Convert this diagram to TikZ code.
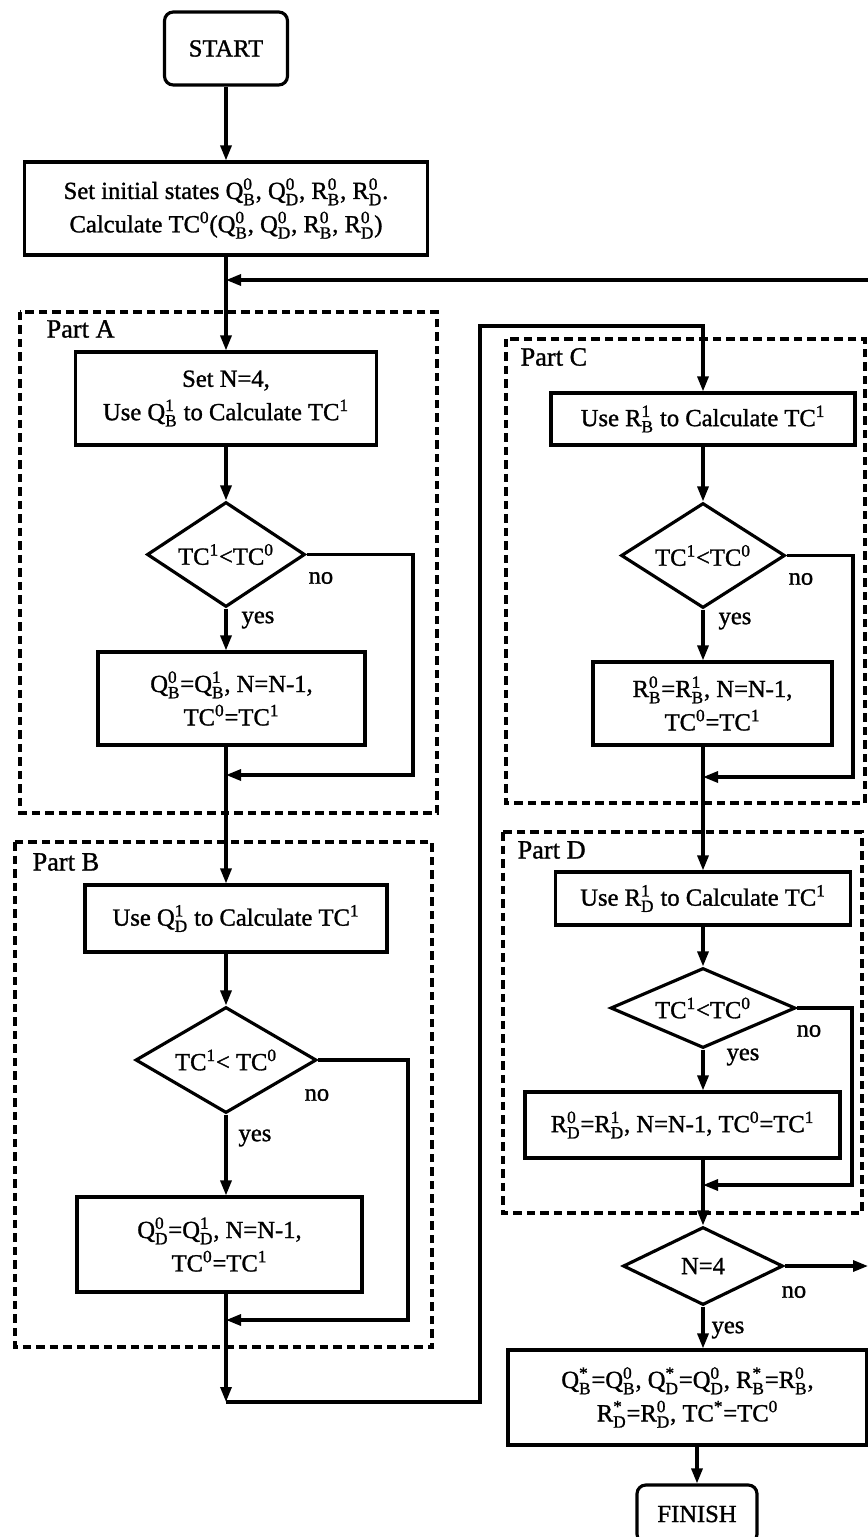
\documentclass[tikz,border=0pt]{standalone}
\usepackage{amsmath}
\usepackage{fontspec}
\setmainfont{Liberation Serif}[FakeBold=1.2]
\usetikzlibrary{shapes.geometric,arrows.meta,positioning}
\newcommand{\vr}[3]{#1\ensuremath{_{\text{#2}}^{\text{#3}}}}
\newcommand{\TCv}[1]{TC\textsuperscript{#1}}
\begin{document}
\begin{tikzpicture}[x=0.02cm, y=-0.02cm, >={Triangle[length=0.3cm,width=0.22cm]}, line width=1.8pt,
  every node/.style={font=\fontsize{14}{19}\selectfont, inner sep=0pt},
  proc/.style={draw, rectangle, align=center},
  term/.style={draw, rectangle, rounded corners=5pt, align=center},
  decide/.style={draw, diamond, aspect=2},
  partbox/.style={dash pattern=on 0.17cm off 0.1cm, line width=2.4pt},
  lbl/.style={anchor=west}]
  \useasboundingbox (0,0) rectangle (868,1537);

  % 1. 虚线分区
  \draw[partbox] (20,312) rectangle (437,813);
  \draw[partbox] (15,842) rectangle (432,1347);
  \draw[partbox] (506,339) rectangle (865,803);
  \draw[partbox] (503,832) rectangle (862,1213);
  \node[lbl, font=\fontsize{15}{19}\selectfont] (partA) at (45,329) {Part A};
  \node[lbl, font=\fontsize{15}{19}\selectfont] (partB) at (31,862) {Part B};
  \node[lbl, font=\fontsize{15}{19}\selectfont] (partC) at (519,357) {Part C};
  \node[lbl, font=\fontsize{15}{19}\selectfont] (partD) at (516,850) {Part D};

  % 2. 左列
  \node[term, minimum width=2.46cm, minimum height=1.46cm] (start) at (226,48.5) {START};
  \node[proc, minimum width=8.06cm, minimum height=1.86cm] (init) at (226,208.5)
    {Set initial states \vr{Q}{B}{0}, \vr{Q}{D}{0}, \vr{R}{B}{0}, \vr{R}{D}{0}.\\
     Calculate \TCv{0}(\vr{Q}{B}{0}, \vr{Q}{D}{0}, \vr{R}{B}{0}, \vr{R}{D}{0})};
  \node[proc, minimum width=6.02cm, minimum height=1.86cm] (setA) at (226,398.5)
    {Set N=4,\\ Use \vr{Q}{B}{1} to Calculate \TCv{1}};
  \node[decide, minimum width=3.16cm, minimum height=2.1cm] (decA) at (226,554.5) {\TCv{1}<\TCv{0}};
  \node[proc, minimum width=5.34cm, minimum height=1.86cm] (updA) at (231.5,698.5)
    {\vr{Q}{B}{0}=\vr{Q}{B}{1}, N=N-1,\\ \TCv{0}=\TCv{1}};
  \node[proc, minimum width=6.04cm, minimum height=1.34cm] (useQD) at (236,918.5)
    {Use \vr{Q}{D}{1} to Calculate \TCv{1}};
  \node[decide, minimum width=3.62cm, minimum height=2.12cm] (decB) at (226,1060) {\TCv{1}< \TCv{0}};
  \node[proc, minimum width=5.7cm, minimum height=1.9cm] (updB) at (219.5,1244.5)
    {\vr{Q}{D}{0}=\vr{Q}{D}{1}, N=N-1,\\ \TCv{0}=\TCv{1}};

  % 3. 右列
  \node[proc, minimum width=6.08cm, minimum height=1.04cm] (useRB) at (703,419)
    {Use \vr{R}{B}{1} to Calculate \TCv{1}};
  \node[decide, minimum width=3.28cm, minimum height=2.1cm] (decC) at (703,555.5) {\TCv{1}<\TCv{0}};
  \node[proc, minimum width=4.78cm, minimum height=1.66cm] (updC) at (712.5,703.5)
    {\vr{R}{B}{0}=\vr{R}{B}{1}, N=N-1,\\ \TCv{0}=\TCv{1}};
  \node[proc, minimum width=5.9cm, minimum height=1.06cm] (useRD) at (703,898.5)
    {Use \vr{R}{D}{1} to Calculate \TCv{1}};
  \node[decide, minimum width=3.7cm, minimum height=1.6cm] (decD) at (703,1008) {\TCv{1}<\TCv{0}};
  \node[proc, minimum width=6.3cm, minimum height=1.32cm] (updD) at (682.5,1125)
    {\vr{R}{D}{0}=\vr{R}{D}{1}, N=N-1, \TCv{0}=\TCv{1}};
  \node[decide, minimum width=3.2cm, minimum height=1.56cm] (decN) at (703,1266) {N=4};
  \node[proc, minimum width=7.18cm, minimum height=1.9cm] (final) at (687.5,1397.5)
    {\vr{Q}{B}{*}=\vr{Q}{B}{0}, \vr{Q}{D}{*}=\vr{Q}{D}{0}, \vr{R}{B}{*}=\vr{R}{B}{0},\\
     \vr{R}{D}{*}=\vr{R}{D}{0}, \TCv{*}=\TCv{0}};
  \node[term, minimum width=2.4cm, minimum height=1.16cm] (finish) at (697,1514) {FINISH};

  % 4. yes / no
  \node[lbl] (yesA) at (240,620) {yes};
  \node[lbl] (noA) at (307,578) {no};
  \node[lbl] (yesB) at (237,1138) {yes};
  \node[lbl] (noB) at (303,1095) {no};
  \node[lbl] (yesC) at (717,621) {yes};
  \node[lbl] (noC) at (787,579) {no};
  \node[lbl] (yesD) at (725,1057) {yes};
  \node[lbl] (noD) at (795,1031) {no};
  \node[lbl] (yesN) at (710,1330) {yes};
  \node[lbl] (noN) at (780,1292) {no};

  % 5. 辅助点
  \coordinate (loopR) at (868,280);
  \coordinate (loopL) at (226,280);
  \coordinate (tA) at (413,775);
  \coordinate (jA) at (226,775);
  \coordinate (tB) at (408,1320);
  \coordinate (jB) at (226,1320);
  \coordinate (cB) at (226,1402);
  \coordinate (cBR) at (480,1402);
  \coordinate (cTR) at (480,326);
  \coordinate (cTL) at (703,326);
  \coordinate (tC) at (853,777);
  \coordinate (jC) at (703,777);
  \coordinate (tD) at (852,1185);
  \coordinate (jD) at (703,1185);
  \coordinate (exitN) at (868,1266);

  % 6. 连线
  \draw[->] (start) -- (init);
  \draw[->] (init) -- (setA);
  \draw[->] (loopR) -- (loopL);
  \draw[->] (setA) -- (decA);
  \draw[->] (decA) -- (decA.south |- updA.north);
  \draw[->] (decA.east) -| (tA) -- (jA);
  \draw[->] (updA.south -| jA) -- (useQD.north -| jA);
  \draw[->] (useQD.south -| decB) -- (decB);
  \draw[->] (decB) -- (decB.south |- updB.north);
  \draw[->] (decB.east) -| (tB) -- (jB);
  \draw[->] (updB.south -| jB) -- (cB);
  \draw[->] (cB) -- (cBR) -- (cTR) -- (cTL) -- (useRB);
  \draw[->] (useRB) -- (decC);
  \draw[->] (decC) -- (decC.south |- updC.north);
  \draw[->] (decC.east) -| (tC) -- (jC);
  \draw[->] (updC.south -| jC) -- (useRD);
  \draw[->] (useRD) -- (decD);
  \draw[->] (decD) -- (decD.south |- updD.north);
  \draw[->] (decD.east) -| (tD) -- (jD);
  \draw[->] (updD.south -| jD) -- (decN);
  \draw[->] (decN.east) -- (exitN);
  \draw[->] (decN) -- (decN.south |- final.north);
  \draw[->] (final.south -| finish) -- (finish);
\end{tikzpicture}
\end{document}
